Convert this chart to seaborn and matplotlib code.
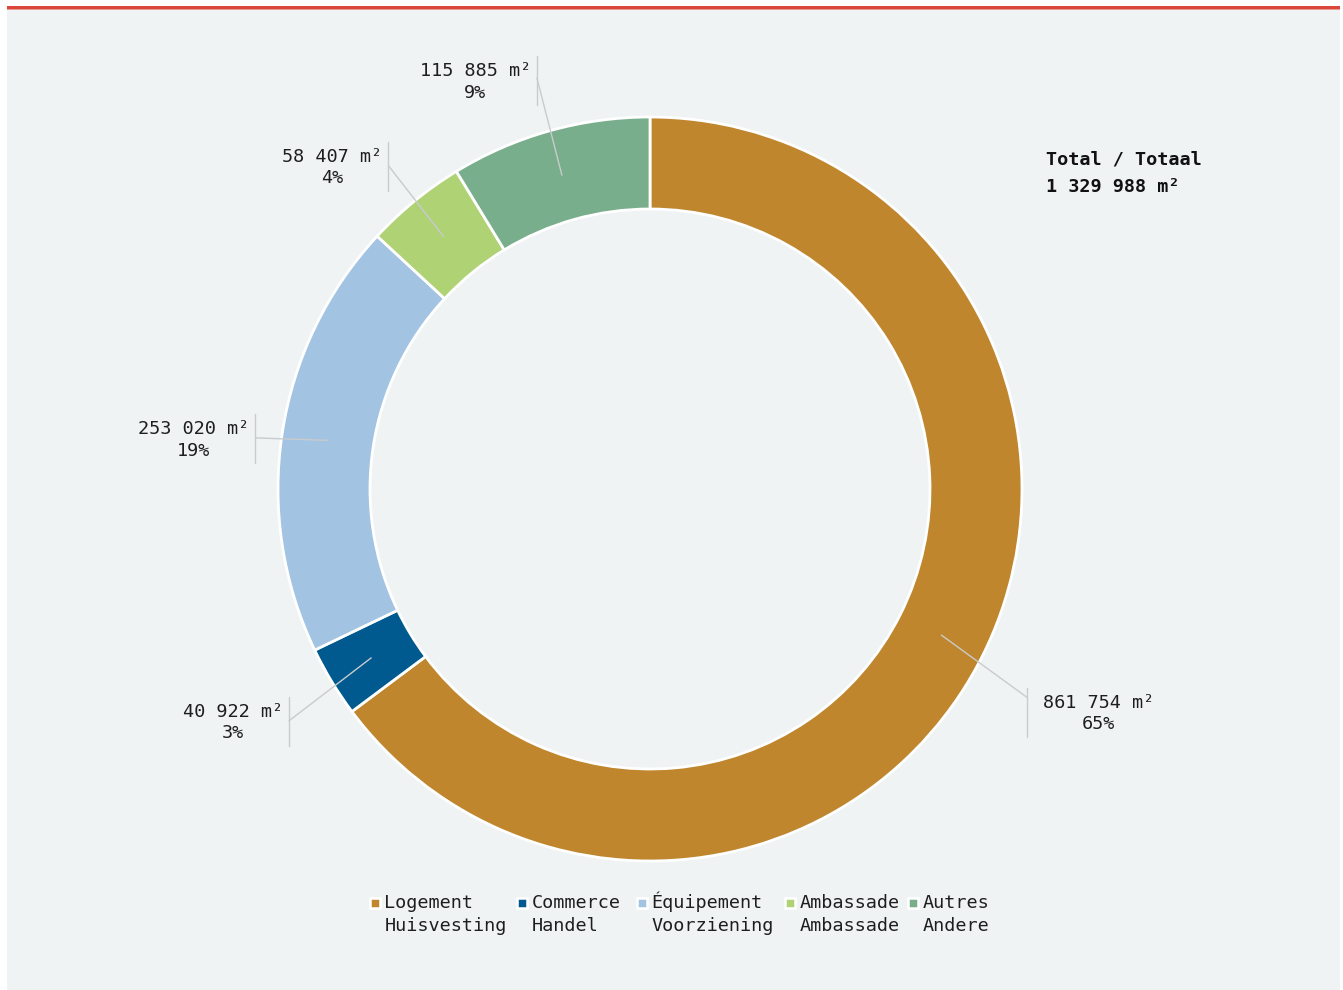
import numpy as np
import matplotlib
matplotlib.use("Agg")
import matplotlib.pyplot as plt
from matplotlib.patches import Rectangle
import seaborn as sns

# Floor area by use (m²)
categories = ["Logement\nHuisvesting", "Commerce\nHandel", "Équipement\nVoorziening",
              "Ambassade\nAmbassade", "Autres\nAndere"]
surfaces_m2 = [861754, 40922, 253020, 58407, 115885]
slice_colors = ["#bf862d", "#005a8f", "#a2c4e2", "#afd275", "#79ae8c"]
total_title = "Total / Totaal"

sns.set_theme(style="white")
plt.rcParams["font.family"] = ["DejaVu Sans Mono", "DejaVu Sans"]

W, H = 1343, 990
fig = plt.figure(figsize=(W / 100, H / 100), dpi=100)
fig.patch.set_facecolor("white")
ax = fig.add_axes([0, 0, 1, 1])

# background panel and top rule (pixel-like coordinates, y pointing down)
ax.add_patch(Rectangle((7, 9.5), 1333, 980, facecolor="#eff3f4", edgecolor="none", zorder=0))
ax.add_patch(Rectangle((7, 6.3), 1333, 2.6, facecolor="#d8473a", edgecolor="none", zorder=1))
ax.add_patch(Rectangle((7, 8.9), 1333, 0.9, facecolor="#ec9a90", edgecolor="none", zorder=1))

cx, cy = 650, 489
R_out, R_in = 372, 280
palette = sns.color_palette(slice_colors)

ax.pie(surfaces_m2, colors=palette, startangle=-90, counterclock=True,
       center=(cx, cy), radius=R_out, frame=True,
       wedgeprops=dict(width=R_out - R_in, edgecolor="white", linewidth=2))

ax.set_xlim(0, W)
ax.set_ylim(H, 0)
ax.set_aspect("auto")
ax.axis("off")


def fmt(v):
    return f"{v:,}".replace(",", " ")


total = sum(surfaces_m2)
fracs = np.array(surfaces_m2) / total
cum = np.concatenate([[0.0], np.cumsum(fracs)[:-1]])
mid_deg = -90 + 360 * (cum + fracs / 2)

# label leader geometry
lead_nudge = [2.3, -1.5, -1.2, 0.3, 0.3]
lead_rf = [1.158, 1.153, 1.07, 1.118, 1.146]
text_dy = [15, 1, 1, 1, 3]
line_col = "#c9cbcc"
fs = 13.3

for i, v in enumerate(surfaces_m2):
    th = np.deg2rad(mid_deg[i])
    r_mid = (R_out + R_in) / 2
    x0, y0 = cx + r_mid * np.cos(th), cy + r_mid * np.sin(th)
    th2 = np.deg2rad(mid_deg[i] + lead_nudge[i])
    x1 = cx + R_out * lead_rf[i] * np.cos(th2)
    y1 = cy + R_out * lead_rf[i] * np.sin(th2)
    ax.plot([x0, x1], [y0, y1], color=line_col, lw=1.0, zorder=3)
    yc = y1 + text_dy[i]
    ax.plot([x1, x1], [yc - 24.5, yc + 24.5], color=line_col, lw=1.0, zorder=3)
    right = np.cos(th2) > 0
    label = f"{fmt(v)} m²\n{round(100 * v / total)}%"
    ax.text(x1 + 16 if right else x1 - 6, yc + 1, label,
            ha="left" if right else "right", va="center", multialignment="center",
            fontsize=fs, color="#1e1e1e", linespacing=1.25, zorder=4)

ax.text(1046, 173, f"{total_title}\n{fmt(total)} m²", ha="left", va="center",
        fontsize=fs, fontweight="bold", linespacing=1.69, color="#111111")

# legend row: square swatch beside the first line of each two-line label
legend_x = [375, 522, 642, 790, 913]
legend_mark_y = 902.5
legend_base_y = 930.7
for xc, c, lab in zip(legend_x, palette, categories):
    ax.plot([xc], [legend_mark_y], linestyle="none", marker="s", markersize=7.2,
            markerfacecolor=c, markeredgecolor="white", markeredgewidth=1.8, zorder=5)
    ax.text(xc + 9.5, legend_base_y, lab, ha="left", va="baseline",
            fontsize=fs, color="#1e1e1e", linespacing=1.33, zorder=5)

fig.savefig("out.png", dpi=100)
